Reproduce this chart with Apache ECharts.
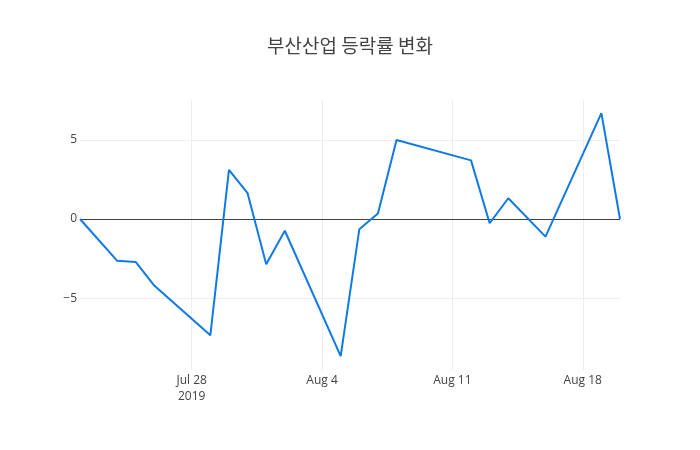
<!DOCTYPE html>
<html>
<head>
<meta charset="utf-8">
<script src="https://cdn.jsdelivr.net/npm/echarts@6/dist/echarts.min.js"></script>
<style>html,body{margin:0;padding:0;background:#fff}#c{width:700px;height:450px}</style>
</head>
<body>
<div id="c"></div>
<script>
var titleText = '부산산업 등락률 변화';
var dates = ['2019-07-22','2019-07-24','2019-07-25','2019-07-26','2019-07-29','2019-07-30','2019-07-31','2019-08-01','2019-08-02','2019-08-05','2019-08-06','2019-08-07','2019-08-08','2019-08-12','2019-08-13','2019-08-14','2019-08-16','2019-08-19','2019-08-20'];
var values = [0, -2.64, -2.72, -4.22, -7.34, 3.10, 1.63, -2.85, -0.74, -8.65, -0.65, 0.34, 4.98, 3.70, -0.27, 1.31, -1.11, 6.68, 0];
var xTickDates = ['2019-07-28','2019-08-04','2019-08-11','2019-08-18'];
var xTickLabels = ['Jul 28\n2019','Aug 4','Aug 11','Aug 18'];
var yTicks = [-5, 0, 5];
var yMin = -9.53, yMax = 7.51;

// build calendar day categories spanning the data
var cats = [];
(function(){
  var d = new Date(dates[0] + 'T00:00:00Z');
  var end = new Date(dates[dates.length-1] + 'T00:00:00Z');
  while (d <= end) {
    cats.push(d.toISOString().slice(0,10));
    d = new Date(d.getTime() + 86400000);
  }
})();
var seriesData = dates.map(function(d,i){ return [d, values[i]]; });
function isTick(idx, val){ return xTickDates.indexOf(val) >= 0; }

var chart = echarts.init(document.getElementById('c'));
chart.setOption({
  animation: false,
  backgroundColor: '#fff',
  title: {
    text: titleText, left: 'center', top: 31,
    textStyle: { fontFamily: '"Noto Sans CJK KR", "Open Sans", sans-serif', fontSize: 19, fontWeight: 'normal', color: '#444' }
  },
  grid: { left: 80, right: 80, top: 100, bottom: 80, containLabel: false },
  xAxis: {
    type: 'category', data: cats, boundaryGap: false,
    axisLine: { show: false }, axisTick: { show: false },
    splitLine: { show: true, interval: isTick, lineStyle: { color: '#eee', width: 1 } },
    axisLabel: {
      interval: isTick, margin: 3, lineHeight: 16,
      fontFamily: '"Open Sans", sans-serif', fontSize: 12, color: '#444',
      formatter: function(v){ var k = xTickDates.indexOf(v); return k >= 0 ? xTickLabels[k] : ''; }
    }
  },
  yAxis: {
    type: 'value', min: yMin, max: yMax, splitNumber: 3,
    axisLine: { show: false }, axisTick: { show: false },
    splitLine: { show: true, showMinLine: false, showMaxLine: false, lineStyle: { color: '#eee', width: 1 } },
    axisLabel: {
      showMinLabel: false, showMaxLabel: false, margin: 3,
      fontFamily: '"Open Sans", sans-serif', fontSize: 12, color: '#444',
      formatter: function(v){ return yTicks.indexOf(v) >= 0 ? String(v).replace('-', '\u2212') : ''; }
    }
  },
  series: [{
    type: 'line', data: seriesData, connectNulls: true, showSymbol: false, symbol: 'none',
    lineStyle: { color: '#0f7ae5', width: 2 }, z: 3,
    markLine: {
      silent: true, symbol: 'none', label: { show: false }, animation: false,
      lineStyle: { color: '#444', width: 1, type: 'solid' },
      data: [{ yAxis: 0 }], z: 2
    }
  }]
});
</script>
</body>
</html>
